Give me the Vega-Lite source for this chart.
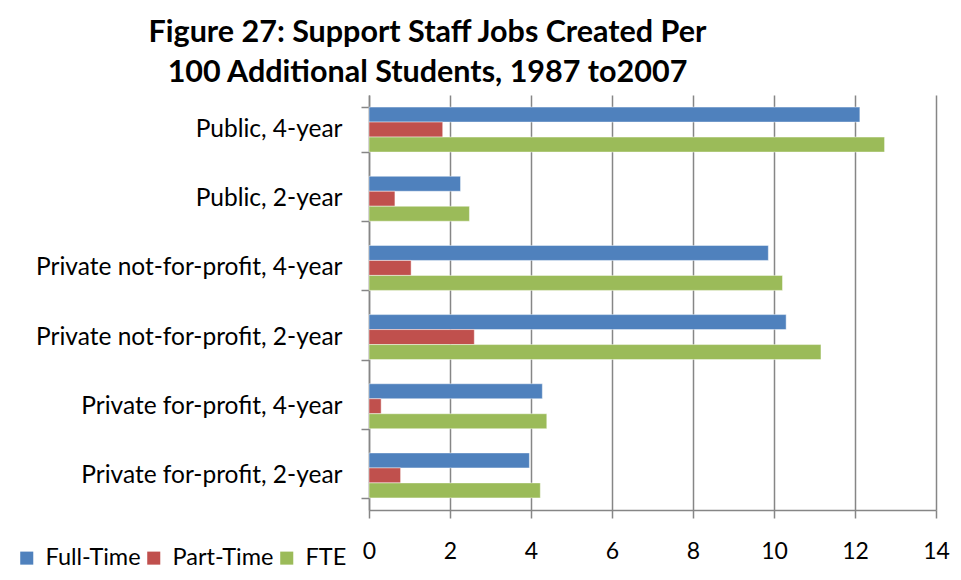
{
  "$schema": "https://vega.github.io/schema/vega-lite/v6.json",
  "autosize": "none",
  "width": 567,
  "height": 415,
  "padding": {"left": 369, "top": 95, "right": 25, "bottom": 70},
  "background": "white",
  "title": {
    "text": ["Figure 27: Support Staff Jobs Created Per", "100 Additional Students, 1987 to2007"],
    "font": "Lato",
    "fontSize": 30.5,
    "fontWeight": "bold",
    "color": "black",
    "anchor": "middle",
    "frame": "group",
    "dx": -225,
    "lineHeight": 40,
    "offset": -6
  },
  "data": {
    "values": [
      {"category": "Public, 4-year", "type": "Full-Time", "value": 12.12},
      {"category": "Public, 4-year", "type": "Part-Time", "value": 1.82},
      {"category": "Public, 4-year", "type": "FTE", "value": 12.73},
      {"category": "Public, 2-year", "type": "Full-Time", "value": 2.26},
      {"category": "Public, 2-year", "type": "Part-Time", "value": 0.64},
      {"category": "Public, 2-year", "type": "FTE", "value": 2.48},
      {"category": "Private not-for-profit, 4-year", "type": "Full-Time", "value": 9.86},
      {"category": "Private not-for-profit, 4-year", "type": "Part-Time", "value": 1.04},
      {"category": "Private not-for-profit, 4-year", "type": "FTE", "value": 10.21},
      {"category": "Private not-for-profit, 2-year", "type": "Full-Time", "value": 10.3},
      {"category": "Private not-for-profit, 2-year", "type": "Part-Time", "value": 2.6},
      {"category": "Private not-for-profit, 2-year", "type": "FTE", "value": 11.16},
      {"category": "Private for-profit, 4-year", "type": "Full-Time", "value": 4.28},
      {"category": "Private for-profit, 4-year", "type": "Part-Time", "value": 0.3},
      {"category": "Private for-profit, 4-year", "type": "FTE", "value": 4.39},
      {"category": "Private for-profit, 2-year", "type": "Full-Time", "value": 3.96},
      {"category": "Private for-profit, 2-year", "type": "Part-Time", "value": 0.78},
      {"category": "Private for-profit, 2-year", "type": "FTE", "value": 4.23}
    ]
  },
  "mark": {"type": "bar", "stroke": "white", "strokeOpacity": 0.45, "strokeWidth": 1},
  "encoding": {
    "y": {
      "field": "category",
      "type": "nominal",
      "sort": ["Public, 4-year", "Public, 2-year", "Private not-for-profit, 4-year", "Private not-for-profit, 2-year", "Private for-profit, 4-year", "Private for-profit, 2-year"],
      "scale": {"paddingInner": 0.35, "paddingOuter": 0.175},
      "axis": {
        "title": null,
        "tickBand": "extent",
        "tickSize": 8,
        "tickColor": "#868686",
        "tickWidth": 1.5,
        "domainColor": "#868686",
        "domainWidth": 1.5,
        "labelFont": "Lato",
        "labelFontSize": 24.5,
        "labelColor": "black",
        "labelPadding": 19,
        "labelLimit": 400
      }
    },
    "yOffset": {
      "field": "type",
      "type": "nominal",
      "sort": ["Full-Time", "Part-Time", "FTE"],
      "scale": {"paddingInner": 0, "paddingOuter": 0}
    },
    "x": {
      "field": "value",
      "type": "quantitative",
      "scale": {"domain": [0, 14], "nice": false},
      "axis": {
        "title": null,
        "values": [0, 2, 4, 6, 8, 10, 12, 14],
        "grid": true,
        "gridColor": "#868686",
        "gridWidth": 1.5,
        "tickSize": 8,
        "tickColor": "#868686",
        "tickWidth": 1.5,
        "domainColor": "#868686",
        "domainWidth": 1.5,
        "labelFont": "Lato",
        "labelFontSize": 23,
        "labelColor": "black",
        "labelPadding": 22,
        "labelFlush": false
      }
    },
    "color": {
      "field": "type",
      "type": "nominal",
      "sort": ["Full-Time", "Part-Time", "FTE"],
      "scale": {"domain": ["Full-Time", "Part-Time", "FTE"], "range": ["#4F81BD", "#C0504D", "#9BBB59"]},
      "legend": {
        "title": null,
        "orient": "none",
        "direction": "horizontal",
        "legendX": -354,
        "legendY": 451,
        "symbolType": "square",
        "symbolSize": 170,
        "symbolStrokeWidth": 0,
        "labelFont": "Lato",
        "labelFontSize": 23.5,
        "labelColor": "black",
        "labelOffset": 7,
        "columnPadding": 1
      }
    }
  },
  "config": {"view": {"stroke": null}}
}
